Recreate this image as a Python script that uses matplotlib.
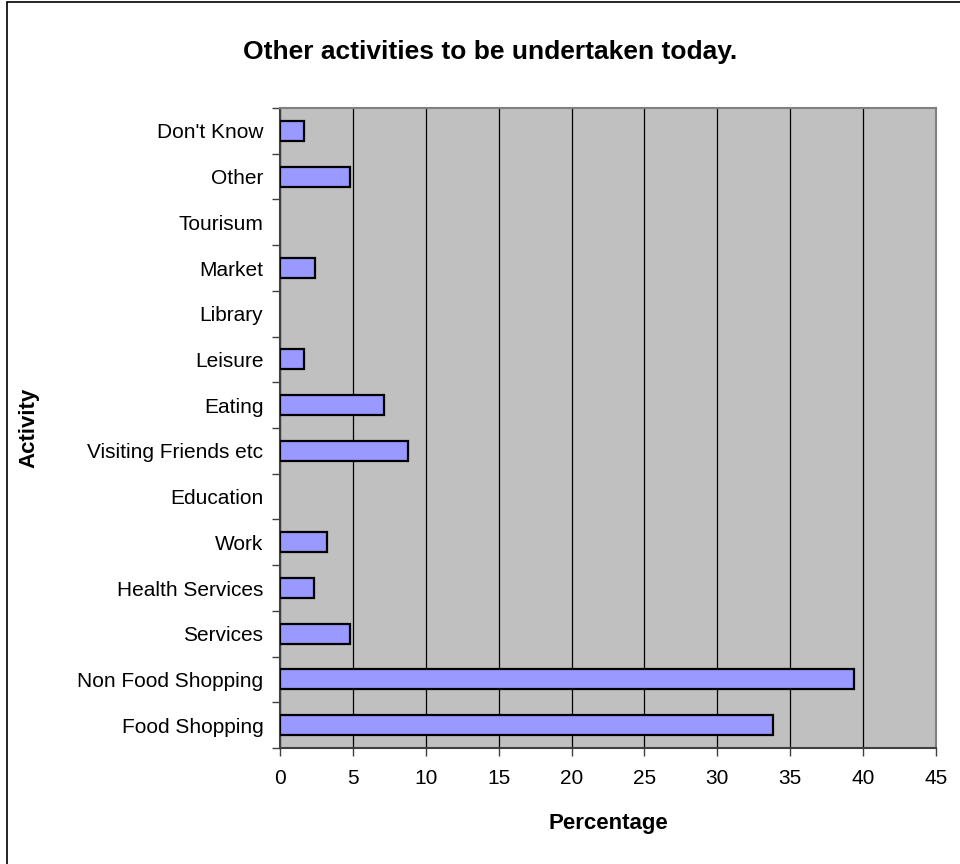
import matplotlib.pyplot as plt
import numpy as np
from matplotlib.patches import Rectangle

plt.rcParams['font.family'] = ['Liberation Sans', 'DejaVu Sans']

activities = ["Food Shopping", "Non Food Shopping", "Services", "Health Services",
              "Work", "Education", "Visiting Friends etc", "Eating", "Leisure",
              "Library", "Market", "Tourisum", "Other", "Don't Know"]
percent = [33.8, 39.4, 4.8, 2.35, 3.2, 0, 8.75, 7.1, 1.65, 0, 2.4, 0, 4.8, 1.65]
xticks = [0, 5, 10, 15, 20, 25, 30, 35, 40, 45]

fig = plt.figure(figsize=(9.6, 8.64), dpi=100)
fig.patches.append(Rectangle((7 / 960, -0.01), 1.02, 1 - 2 / 864 + 0.01,
                             transform=fig.transFigure, fill=False,
                             edgecolor="black", linewidth=1.2))

ax = fig.add_axes([280 / 960, 1 - 748 / 864, 656 / 960, 640 / 864])
ax.set_facecolor("#C0C0C0")

y = np.arange(len(activities))
# no outline for empty categories
edge_w = [1.6 if v > 0 else 0 for v in percent]
ax.barh(y, percent, height=0.44, color="#9999FF", edgecolor="black",
        linewidth=edge_w, zorder=3)

ax.set_xlim(0, 45)
ax.set_ylim(-0.5, len(activities) - 0.5)
ax.set_xticks(xticks)
ax.set_yticks(y)
ax.set_yticklabels(activities)
ax.set_yticks(np.arange(-0.5, len(activities), 1), minor=True)
ax.tick_params(axis="y", which="major", length=0, pad=12, labelsize=15)
ax.tick_params(axis="y", which="minor", length=6, width=1, color="#404040")
ax.tick_params(axis="x", length=6, width=1, color="#404040", pad=9, labelsize=15)

ax.grid(axis="x", color="black", linewidth=0.9, zorder=1)
ax.set_axisbelow(True)

for side in ["left", "bottom"]:
    ax.spines[side].set_color("#404040")
    ax.spines[side].set_linewidth(1.5)
for side in ["top", "right"]:
    ax.spines[side].set_color("#808080")
    ax.spines[side].set_linewidth(1.5)

ax.set_xlabel("Percentage", fontsize=16, fontweight="bold")
ax.set_ylabel("Activity", fontsize=16, fontweight="bold")
ax.xaxis.set_label_coords(0.5, -0.101)
ax.yaxis.set_label_coords(-0.366, 0.5)
fig.text(490 / 960, 1 - 52 / 864, "Other activities to be undertaken today.",
         ha="center", va="center", fontsize=19, fontweight="bold")

fig.savefig("out.png", dpi=100)
